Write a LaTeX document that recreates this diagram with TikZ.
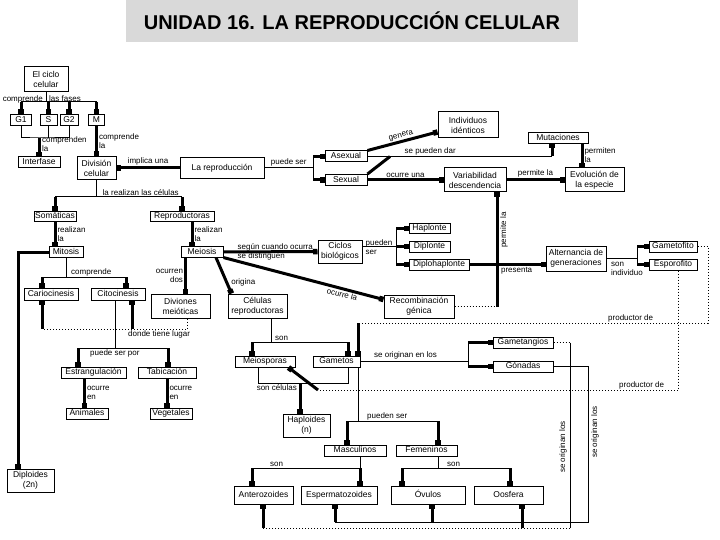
\documentclass[tikz,border=0pt]{standalone}
\usepackage{fontspec}
\setmainfont{Liberation Sans}
\usetikzlibrary{arrows.meta}
\definecolor{titlegray}{RGB}{217,217,217}
\newcommand{\mapfont}{\fontsize{8.5}{10}\selectfont}
\newcommand{\lblfont}{\fontsize{8}{9}\selectfont}

\begin{document}
\begin{tikzpicture}[x=1pt, y=-1pt,
    box/.style={draw, line width=1pt, fill=white, font=\mapfont, align=center,
                inner xsep=1pt, inner ysep=1pt, minimum height=11pt,
                text height=6.3pt, text depth=1.8pt},
    tall/.style={minimum height=24pt, text height=, text depth=},
    lbl/.style={font=\lblfont, inner sep=1pt, align=left},
    link/.style={line width=1pt},
    heavy/.style={line width=3pt},
    tolink/.style={heavy, -{Square[length=4.5pt,width=5.5pt]}},
    dotline/.style={line width=1pt, dotted}]
\useasboundingbox (0,0) rectangle (720,540);

\node [fill=titlegray, minimum width=452pt, minimum height=42pt, font=\bfseries\fontsize{20}{24}\selectfont] (title) at (352 , 21) {UNIDAD 16. LA REPRODUCCIÓN CELULAR};

% ciclo celular
\node [box, tall, minimum width=44pt, minimum height=25pt] (ciclo) at (46 , 79.5) {El ciclo\\celular};
\node [box, minimum width=21pt] (g1) at (21 , 120) {G1};
\node [box, minimum width=17pt] (s) at (48.5 , 120) {S};
\node [box, minimum width=18pt] (g2) at (69 , 120) {G2};
\node [box, minimum width=16pt] (m) at (96.5 , 120) {M};
\node [box, minimum width=42pt] (interfase) at (39 , 162.5) {Interfase};
\node [box, tall, minimum width=39pt, minimum height=23pt] (division) at (96.5 , 168) {División\\celular};
\node [box, minimum width=84pt, minimum height=21pt] (reproduccion) at (222 , 168) {La reproducción};
\node [box, minimum width=42pt] (asexual) at (346 , 156.5) {Asexual};
\node [box, minimum width=42pt] (sexual) at (346 , 180) {Sexual};
\node [box, tall, minimum width=60pt, minimum height=26pt] (identicos) at (468 , 125) {Individuos\\idénticos};
\node [box, minimum width=60pt, minimum height=10pt] (mutaciones) at (558 , 138) {Mutaciones};
\node [box, tall, minimum width=62pt] (variabilidad) at (475 , 180) {Variabilidad\\descendencia};
\node [box, tall, minimum width=59pt] (evolucion) at (594.5 , 180) {Evolución de\\la especie};

% celulas
\node [box, minimum width=42pt, minimum height=10pt] (somaticas) at (55 , 216.5) {Somáticas};
\node [box, minimum width=64pt, minimum height=10pt] (reproductoras) at (182 , 216.5) {Reproductoras};
\node [box, minimum width=34pt, minimum height=10pt] (mitosis) at (66 , 252) {Mitosis};
\node [box, minimum width=42pt, minimum height=10pt] (meiosis) at (202 , 252) {Meiosis};
\node [box, tall, minimum width=44pt, minimum height=23pt] (ciclos) at (340 , 251.5) {Ciclos\\biológicos};
\node [box, minimum width=41pt, minimum height=10pt] (haplonte) at (429.5 , 228.5) {Haplonte};
\node [box, minimum width=41pt] (diplonte) at (429.5 , 246.5) {Diplonte};
\node [box, minimum width=60pt] (diplohaplonte) at (439 , 264.5) {Diplohaplonte};
\node [box, tall, minimum width=60pt, minimum height=25pt] (alternancia) at (576 , 258.5) {Alternancia de\\generaciones};
\node [box, minimum width=48pt] (gametofito) at (673 , 246.5) {Gametofito};
\node [box, minimum width=48pt] (esporofito) at (673 , 264.5) {Esporofito};
\node [box, minimum width=54pt, minimum height=12pt] (cariocinesis) at (51 , 294) {Cariocinesis};
\node [box, minimum width=54pt, minimum height=12pt] (citocinesis) at (118 , 294) {Citocinesis};
\node [box, tall, minimum width=59pt] (divisiones) at (180.5 , 306) {Diviones\\meióticas};
\node [box, tall, minimum width=59pt] (celulas) at (257.5 , 306) {Células\\reproductoras};
\node [box, tall, minimum width=70pt, minimum height=23pt] (recombinacion) at (419 , 306.5) {Recombinación\\génica};
\node [box, minimum width=65pt] (estrangulacion) at (93.5 , 372.5) {Estrangulación};
\node [box, minimum width=58pt] (tabicacion) at (167 , 372.5) {Tabicación};
\node [box, minimum width=42pt] (animales) at (87 , 413.5) {Animales};
\node [box, minimum width=42pt] (vegetales) at (171 , 413.5) {Vegetales};
\node [box, tall, minimum width=47pt, minimum height=23pt] (diploides) at (30.5 , 480.5) {Diploides\\(2n)};

% gametos
\node [box, minimum width=60pt] (meiosporas) at (265 , 361.5) {Meiosporas};
\node [box, minimum width=47pt] (gametos) at (336.5 , 361.5) {Gametos};
\node [box, minimum width=60pt] (gametangios) at (523 , 342.5) {Gametangios};
\node [box, minimum width=60pt] (gonadas) at (523 , 366.5) {Gónadas};
\node [box, tall, minimum width=47pt, minimum height=23pt] (haploides) at (306.5 , 425.5) {Haploides\\(n)};
\node [box, minimum width=62pt] (masculinos) at (355 , 450.5) {Masculinos};
\node [box, minimum width=61pt] (femeninos) at (426.5 , 450.5) {Femeninos};
\node [box, minimum width=59pt, minimum height=18pt] (anterozoides) at (263.5 , 495) {Anterozoides};
\node [box, minimum width=76pt, minimum height=18pt] (espermatozoides) at (339 , 495) {Espermatozoides};
\node [box, minimum width=74pt, minimum height=18pt] (ovulos) at (428 , 495) {Óvulos};
\node [box, minimum width=69pt, minimum height=18pt] (oosfera) at (508.5 , 495) {Oosfera};

% junctions
\coordinate (jfases) at (46 , 102);
\coordinate (jinter) at (39 , 138);
\coordinate (jcel) at (96.5 , 197);
\coordinate (jrep) at (313 , 168);
\coordinate (jsex) at (390 , 156.5);
\coordinate (jmut) at (552 , 156.5);
\coordinate (jvar) at (497 , 306.5);
\coordinate (jtipo) at (396 , 246);
\coordinate (jind) at (637 , 258.5);
\coordinate (jcomp) at (66 , 277);
\coordinate (jcar) at (42 , 277);
\coordinate (jcit) at (126 , 277);
\coordinate (jdon1) at (42 , 329);
\coordinate (jdon2) at (132 , 329);
\coordinate (jcito) at (115 , 348);
\coordinate (jest) at (78 , 348);
\coordinate (jtab) at (168 , 348);
\coordinate (json) at (271 , 342);
\coordinate (jmeio) at (252 , 342);
\coordinate (jgam) at (348 , 342);
\coordinate (jgf1) at (708 , 246.5);
\coordinate (jgf2) at (708 , 323);
\coordinate (jgf3) at (358 , 323);
\coordinate (jes1) at (678 , 390);
\coordinate (jes2) at (318 , 390);
\coordinate (jori) at (468 , 361.5);
\coordinate (jh1) at (258 , 383);
\coordinate (jh2) at (348 , 383);
\coordinate (jhap) at (300 , 383);
\coordinate (jpue) at (358 , 421);
\coordinate (jmas) at (347 , 421);
\coordinate (jfem) at (438 , 421);
\coordinate (jm1) at (360 , 468);
\coordinate (jant) at (252 , 468);
\coordinate (jf1) at (438 , 468);
\coordinate (jov) at (402 , 468);
\coordinate (joo) at (510 , 468);
\coordinate (jga1) at (570 , 342.5);
\coordinate (jga2) at (570 , 528);
\coordinate (jant2) at (263 , 528);
\coordinate (joo2) at (522 , 528);
\coordinate (jgo1) at (588 , 366.5);
\coordinate (jgo2) at (588 , 522);
\coordinate (jesp) at (335 , 522);
\coordinate (jovu) at (432 , 522);

% top
\draw[link] (ciclo) -- (jfases);
\draw[link] (jfases -| g1) -- (jfases -| m);
\foreach \n in {g1,s,g2,m} \draw[tolink] (jfases -| \n) -- (\n);
\node [lbl, anchor=east] at (44 , 99) {comprende};
\node [lbl, anchor=west] at (48 , 99) {las fases};
\draw[link] (g1) |- (jinter) -| (g2);
\draw[link] (s) -- (s |- jinter);
\draw[tolink] (jinter) -- (interfase);
\node [lbl, anchor=west] at (41 , 144) {comprenden\\la};
\draw[tolink] (m) -- (division) node [lbl, midway, right] {comprende\\la};
\draw[tolink] (reproduccion) -- (division) node [lbl, midway, above] {implica una};
\draw[link] (division) -- (jcel);
\node [lbl, anchor=south west] at ([xshift=5pt]jcel) {la realizan las células};
\draw[link] (jcel -| somaticas) -- (jcel -| reproductoras);
\draw[tolink] (jcel -| somaticas) -- (somaticas);
\draw[tolink] (jcel -| reproductoras) -- (reproductoras);

\draw[link] (reproduccion) -- (jrep) node [lbl, midway, above] {puede ser};
\draw[link] (jrep |- asexual) -- (jrep |- sexual);
\draw[tolink] (jrep |- asexual) -- (asexual);
\draw[tolink] (jrep |- sexual) -- (sexual);
\draw[tolink] (asexual.north east) -- ([yshift=-7pt]identicos.west) node [lbl, midway, sloped, above] {genera};
\draw[link] (asexual) -- (jmut) node [lbl, pos=0.34, above] {se pueden dar};
\draw[heavy] (sexual.north east) -- (jsex);
\draw[tolink] (jmut) -- (jmut |- mutaciones.south);
\draw[tolink] (sexual) -- (variabilidad) node [lbl, midway, above] {ocurre una};
\draw[tolink] (variabilidad) -- (evolucion) node [lbl, midway, above] {permite la};
\draw[tolink] ([xshift=24pt]mutaciones.south) -- ([xshift=24pt]mutaciones.south |- evolucion.north) node [lbl, midway, right] {permiten\\la};

% somaticas y reproductoras
\draw[tolink] (somaticas) -- (somaticas |- mitosis.north) node [lbl, midway, right] {realizan\\la};
\draw[tolink] ([xshift=10pt]reproductoras.south) -- ([xshift=10pt]reproductoras.south |- meiosis.north) node [lbl, midway, right] {realizan\\la};
\draw[tolink] (mitosis.west) -| ([xshift=-12.5pt]diploides.north);
\draw[link] (mitosis) -- (jcomp);
\node [lbl, anchor=south west] at ([xshift=4pt]jcomp) {comprende};
\draw[link] (jcar) -- (jcit);
\draw[tolink] (jcar) -- (jcar |- cariocinesis.north);
\draw[tolink] (jcit) -- (jcit |- citocinesis.north);
\draw[tolink] ([xshift=5pt]divisiones.north |- meiosis.south) -- ([xshift=5pt]divisiones.north) node [lbl, midway, left, align=right] {ocurren\\dos};
\draw[tolink] ([xshift=14pt]meiosis.south) -- ([xshift=-26pt]celulas.north) node [lbl, pos=0.7, right=2pt] {origina};
\draw[tolink] (meiosis) -- (ciclos);
\node [lbl, anchor=west] at ([xshift=13pt]meiosis.east) {según cuando ocurra\\se distinguen};
\draw[tolink] (meiosis.south east) -- ([yshift=7pt]recombinacion.west) node [lbl, pos=0.75, sloped, below] {ocurre la};
\draw[link] (ciclos.east |- jtipo) -- (jtipo);
\node [lbl, anchor=west] at ([xshift=2pt]ciclos.east |- 0,247.5) {pueden\\ser};
\draw[link] (jtipo |- haplonte) -- (jtipo |- diplohaplonte);
\foreach \n in {haplonte,diplonte,diplohaplonte} \draw[tolink] (jtipo |- \n) -- (\n);
\draw[tolink] (diplohaplonte) -- (diplohaplonte -| alternancia.west) node [lbl, pos=0.62, below] {presenta};
\draw[dotline] (recombinacion) -- (jvar);
\draw[tolink] (jvar) -- (jvar |- variabilidad.south);
\node [lbl, rotate=90, anchor=north] at (499 , 230) {permite la};
\draw[link] (alternancia) -- (jind);
\draw[link] (jind |- gametofito) -- (jind |- esporofito);
\draw[tolink] (jind |- gametofito) -- (gametofito);
\draw[tolink] (jind |- esporofito) -- (esporofito);
\node [lbl, anchor=north west] at (610 , 261) {son\\individuo};

% division de la celula
\draw[dotline] ([xshift=6.5pt]divisiones.south) |- (jdon1);
\draw[tolink] (jdon1) -- (jdon1 |- cariocinesis.south);
\draw[tolink] (jdon2) -- (jdon2 |- citocinesis.south);
\node [lbl, anchor=north west] at (127 , 330) {donde tiene lugar};
\draw[link] ([xshift=-3pt]citocinesis.south) -- (jcito);
\draw[link] (jest) -- (jtab);
\draw[tolink] (jest) -- (jest |- estrangulacion.north);
\draw[tolink] (jtab) -- (jtab |- tabicacion.north);
\node [lbl, anchor=north west] at (89 , 348.5) {puede ser por};
\draw[tolink] ([xshift=-9pt]estrangulacion.south) -- ([xshift=-9pt]estrangulacion.south |- animales.north) node [lbl, midway, right] {ocurre\\en};
\draw[tolink] (tabicacion) -- (tabicacion |- vegetales.north) node [lbl, midway, right] {ocurre\\en};

% celulas reproductoras
\draw[link] ([xshift=13.5pt]celulas.south) -- (json);
\node [lbl, anchor=south west] at ([xshift=3pt]json) {son};
\draw[link] (jmeio) -- (jgam);
\draw[tolink] (jmeio) -- (jmeio |- meiosporas.north);
\draw[tolink] (jgam) -- (jgam |- gametos.north);
\draw[dotline] (gametofito) -- (jgf1) -- (jgf2) -- (jgf3);
\node [lbl, anchor=south west] at (607 , 323) {productor de};
\draw[tolink] (jgf3) -- (jgf3 |- gametos.north);
\draw[dotline] ([xshift=5pt]esporofito.south) |- (jes2);
\node [lbl, anchor=south west] at (618 , 390) {productor de};
\draw[tolink] (jes2) -- ([xshift=-7pt]meiosporas.south east);
\draw[link] (gametos) -- (jori);
\node [lbl, anchor=south west] at (373 , 360.5) {se originan en los};
\draw[link] (jori |- gametangios) -- (jori |- gonadas);
\draw[tolink] (jori |- gametangios) -- (gametangios);
\draw[tolink] (jori |- gonadas) -- (gonadas);
\draw[link] (jh1 |- meiosporas.south) -- (jh1) -- (jh2) -- (jh2 |- gametos.south);
\draw[tolink] (jhap) -- (jhap |- haploides.north);
\node [lbl, anchor=north east] at ([xshift=-2pt]jhap) {son células};
\draw[link] (jpue |- gametos.south) -- (jpue);
\draw[link] (jmas) -- (jfem);
\node [lbl, anchor=south west] at (366 , 421) {pueden ser};
\draw[tolink] (jmas) -- (jmas |- masculinos.north);
\draw[tolink] (jfem) -- (jfem |- femeninos.north);
\draw[link] (jm1 |- masculinos.south) -- (jm1);
\draw[link] (jant) -- (jm1);
\node [lbl, anchor=south west] at (269 , 468) {son};
\draw[tolink] (jant) -- (jant |- anterozoides.north);
\draw[tolink] (jm1) -- (jm1 |- espermatozoides.north);
\draw[link] (jf1 |- femeninos.south) -- (jf1);
\draw[link] (jov) -- (joo);
\node [lbl, anchor=south west] at (446 , 468) {son};
\draw[tolink] (jov) -- (jov |- ovulos.north);
\draw[tolink] (joo) -- (joo |- oosfera.north);

% gametangios y gonadas
\draw[dotline] (gametangios) -- (jga1);
\draw[link] (jga1) -- (jga2);
\draw[dotline] (jga2) -- (jant2);
\draw[tolink] (jant2) -- (jant2 |- anterozoides.south);
\draw[tolink] (joo2) -- (joo2 |- oosfera.south);
\node [lbl, rotate=90, anchor=south] at (568 , 447) {se originan los};
\draw[link] (gonadas) -- (jgo1) -- (jgo2) -- (jesp);
\draw[tolink] (jesp) -- (jesp |- espermatozoides.south);
\draw[tolink] (jovu) -- (jovu |- ovulos.south);
\node [lbl, rotate=90, anchor=north] at (590 , 432) {se originan los};
\end{tikzpicture}
\end{document}
